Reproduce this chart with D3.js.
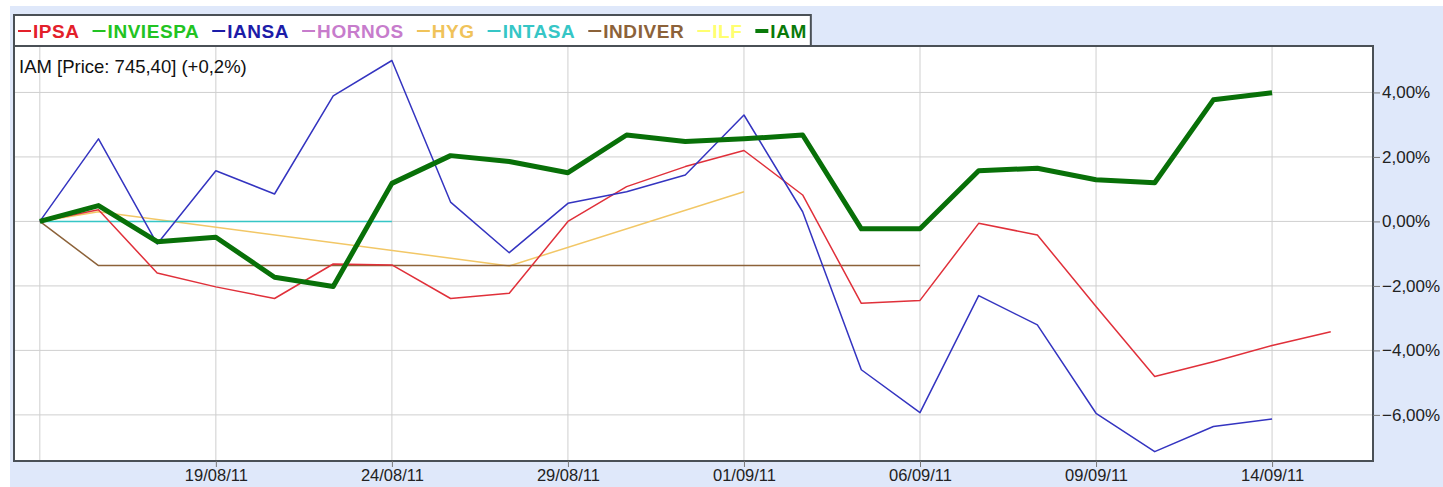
<!DOCTYPE html>
<html>
<head>
<meta charset="utf-8">
<script src="https://cdn.jsdelivr.net/npm/d3@7"></script>
<style>
  body { margin: 0; background: #fff; }
  svg text { font-family: "Liberation Sans", Arial, sans-serif; }
</style>
</head>
<body>
<div id="chart"></div>
<script>
// trading days, 16/08/11 .. 15/09/11
const dates = ["16/08/11","17/08/11","18/08/11","19/08/11","22/08/11","23/08/11","24/08/11",
  "25/08/11","26/08/11","29/08/11","30/08/11","31/08/11","01/09/11","02/09/11","05/09/11",
  "06/09/11","07/09/11","08/09/11","09/09/11","12/09/11","13/09/11","14/09/11","15/09/11"];
const tickDates = ["16/08/11","19/08/11","24/08/11","29/08/11","01/09/11","06/09/11","09/09/11","14/09/11"];
const yTicks = [-6, -4, -2, 0, 2, 4];

const ipsa = [0, 0.36, -1.6, -2.03, -2.39, -1.32, -1.35, -2.39, -2.23, 0.0, 1.08, 1.70, 2.20,
  0.82, -2.54, -2.45, -0.06, -0.42, -2.64, -4.81, -4.35, -3.85, -3.42];
const iansa = [0, 2.56, -0.70, 1.57, 0.85, 3.89, 4.99, 0.60, -0.97, 0.56, 0.92, 1.44, 3.30,
  0.30, -4.6, -5.93, -2.30, -3.21, -5.95, -7.14, -6.36, -6.13, null];
const iam = [0, 0.49, -0.63, -0.49, -1.73, -2.02, 1.18, 2.04, 1.86, 1.51, 2.68, 2.48, 2.56,
  2.68, -0.23, -0.23, 1.57, 1.65, 1.29, 1.20, 3.77, 3.99, null];
const indiver = [0, -1.37, -1.37, -1.37, -1.37, -1.37, -1.37, -1.37, -1.37, -1.37, -1.37, -1.37,
  -1.37, -1.37, -1.37, -1.37, null, null, null, null, null, null, null];
const intasa = [0, 0, 0, 0, 0, 0, 0, null, null, null, null, null, null, null, null, null,
  null, null, null, null, null, null, null];
const hyg = [0, 0.30, null, null, null, null, null, null, -1.38, null, null, null, 0.92, null,
  null, null, null, null, null, null, null, null, null];

const legendNames = ["IPSA","INVIESPA","IANSA","HORNOS","HYG","INTASA","INDIVER","ILF","IAM"];
const legendColors = ["#e3202a","#22c322","#1c1ca8","#c77ccc","#f0c35a","#36c6c6","#8c6239","#ffff70","#0a7a0a"];

const series = [
  { name: "HYG", values: hyg, color: "#f2c766", width: 1.5 },
  { name: "INTASA", values: intasa, color: "#36c6c6", width: 1.5 },
  { name: "INDIVER", values: indiver, color: "#8c6239", width: 1.5 },
  { name: "IPSA", values: ipsa, color: "#e0303a", width: 1.5 },
  { name: "IANSA", values: iansa, color: "#3434c0", width: 1.5 },
  { name: "IAM", values: iam, color: "#087008", width: 5 }
];

const width = 1443, height = 487;
const plot = { left: 14, right: 1373, top: 46, bottom: 461 };

const svg = d3.select("#chart").append("svg")
  .attr("width", width)
  .attr("height", height);

// page background
svg.append("rect")
  .attr("x", 10).attr("y", 6)
  .attr("width", width - 10).attr("height", height - 6)
  .attr("fill", "#dfe8fa");

svg.append("rect")
  .attr("x", plot.left).attr("y", plot.top)
  .attr("width", plot.right - plot.left).attr("height", plot.bottom - plot.top)
  .attr("fill", "#fff");

const x = d3.scaleLinear()
  .domain([-0.44, 22.72])
  .range([plot.left, plot.right]);

const y = d3.scaleLinear()
  .domain([-7.43, 5.44])
  .range([plot.bottom, plot.top]);

// grid
const g = svg.append("g");
g.selectAll("line.h")
  .data(yTicks)
  .join("line")
    .attr("x1", plot.left).attr("x2", plot.right)
    .attr("y1", d => y(d)).attr("y2", d => y(d))
    .attr("stroke", "#cfcfcf").attr("stroke-width", 1);

g.selectAll("line.v")
  .data(tickDates)
  .join("line")
    .attr("x1", d => x(dates.indexOf(d))).attr("x2", d => x(dates.indexOf(d)))
    .attr("y1", plot.top).attr("y2", plot.bottom)
    .attr("stroke", "#cfcfcf").attr("stroke-width", 1);

// lines
const line = d3.line()
  .x(d => x(d.i))
  .y(d => y(d.v));

series.forEach(s => {
  const pts = s.values.map((v, i) => ({ i, v })).filter(d => d.v !== null);
  svg.append("path")
    .datum(pts)
    .attr("d", line)
    .attr("fill", "none")
    .attr("stroke", s.color)
    .attr("stroke-width", s.width)
    .attr("stroke-linejoin", "round");
});

// plot frame
svg.append("rect")
  .attr("x", plot.left).attr("y", plot.top)
  .attr("width", plot.right - plot.left).attr("height", plot.bottom - plot.top)
  .attr("fill", "none")
  .attr("stroke", "#4a5056").attr("stroke-width", 2);

// Y-axis
const yAxis = svg.append("g")
  .attr("transform", `translate(${plot.right},0)`)
  .call(d3.axisRight(y)
    .tickValues(yTicks)
    .tickSize(7)
    .tickPadding(2)
    .tickFormat(d => d3.format(".2f")(d).replace(".", ",") + "%"));
yAxis.select(".domain").remove();
yAxis.selectAll("line").attr("stroke", "#777");
yAxis.selectAll("text")
  .attr("font-size", 17)
  .attr("fill", "#222");

// X-axis
const xAxis = svg.append("g")
  .attr("transform", `translate(0,${plot.bottom})`)
  .call(d3.axisBottom(x)
    .tickValues(tickDates.slice(1).map(d => dates.indexOf(d)))
    .tickSize(6)
    .tickPadding(2)
    .tickFormat(i => dates[i]));
xAxis.select(".domain").remove();
xAxis.selectAll("line").attr("stroke", "#777");
xAxis.selectAll("text")
  .attr("font-size", 16.5)
  .attr("fill", "#222");

// title
svg.append("text")
  .attr("x", 19).attr("y", 73)
  .attr("font-size", 18.5)
  .attr("fill", "#111")
  .text("IAM [Price: 745,40] (+0,2%)");

// legend
const legend = svg.append("g");
const legendBox = legend.append("rect")
  .attr("x", 14).attr("y", 15)
  .attr("height", 31)
  .attr("fill", "#fff")
  .attr("stroke", "#4a5056").attr("stroke-width", 2);

let lx = 18;
legendNames.forEach((name, k) => {
  legend.append("line")
    .attr("x1", lx).attr("x2", lx + 13)
    .attr("y1", 31).attr("y2", 31)
    .attr("stroke", legendColors[k])
    .attr("stroke-width", name === "IAM" ? 4 : 2);
  const t = legend.append("text")
    .attr("x", lx + 15).attr("y", 38)
    .attr("font-size", 19)
    .attr("font-weight", "bold")
    .attr("letter-spacing", 0.55)
    .attr("fill", legendColors[k])
    .text(name);
  lx += 15 + t.node().getComputedTextLength() + 13;
});
legendBox.attr("width", lx - 14 - 9);
</script>
</body>
</html>
